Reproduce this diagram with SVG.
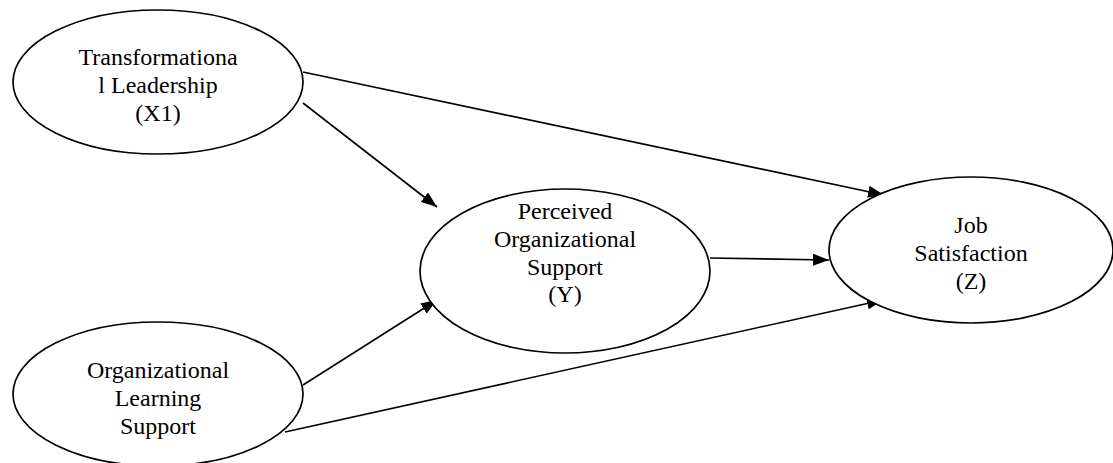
<svg xmlns="http://www.w3.org/2000/svg" width="1113" height="463" viewBox="0 0 1113 463">
<style>
.node ellipse{fill:#fff;stroke:#000;stroke-width:1.7}
.node text{font-family:'Liberation Serif','Times New Roman',serif;font-size:24px;fill:#000;text-anchor:middle}
.edge{stroke:#000;stroke-width:1.6;fill:none;marker-end:url(#ah)}
</style>
<defs>
<marker id="ah" markerWidth="16" markerHeight="12" refX="16" refY="6" orient="auto" markerUnits="userSpaceOnUse">
<path d="M0,0 L16,6 L0,12 Z" fill="#000"/>
</marker>
</defs>
<g id="connectors">
<line class="edge" x1="303" y1="72" x2="884" y2="195"/>
<line class="edge" x1="303" y1="103" x2="437" y2="207"/>
<line class="edge" x1="303" y1="385" x2="437" y2="300"/>
<line class="edge" x1="285" y1="432" x2="883" y2="300"/>
<line class="edge" x1="710" y1="258" x2="829" y2="260"/>
</g>
<g id="x1" class="node">
<ellipse cx="158" cy="82" rx="145" ry="72"/>
<text x="158" y="65">Transformationa</text>
<text x="158" y="93">l Leadership</text>
<text x="158" y="121">(X1)</text>
</g>
<g id="ols" class="node">
<ellipse cx="158" cy="394" rx="145" ry="72"/>
<text x="158" y="378">Organizational</text>
<text x="158" y="406">Learning</text>
<text x="158" y="434">Support</text>
</g>
<g id="y" class="node">
<ellipse cx="565" cy="271" rx="145" ry="82"/>
<text x="565" y="219">Perceived</text>
<text x="565" y="247">Organizational</text>
<text x="565" y="275">Support</text>
<text x="565" y="302">(Y)</text>
</g>
<g id="z" class="node">
<ellipse cx="971" cy="250" rx="142" ry="73"/>
<text x="971" y="233">Job</text>
<text x="971" y="261">Satisfaction</text>
<text x="971" y="289">(Z)</text>
</g>
</svg>
